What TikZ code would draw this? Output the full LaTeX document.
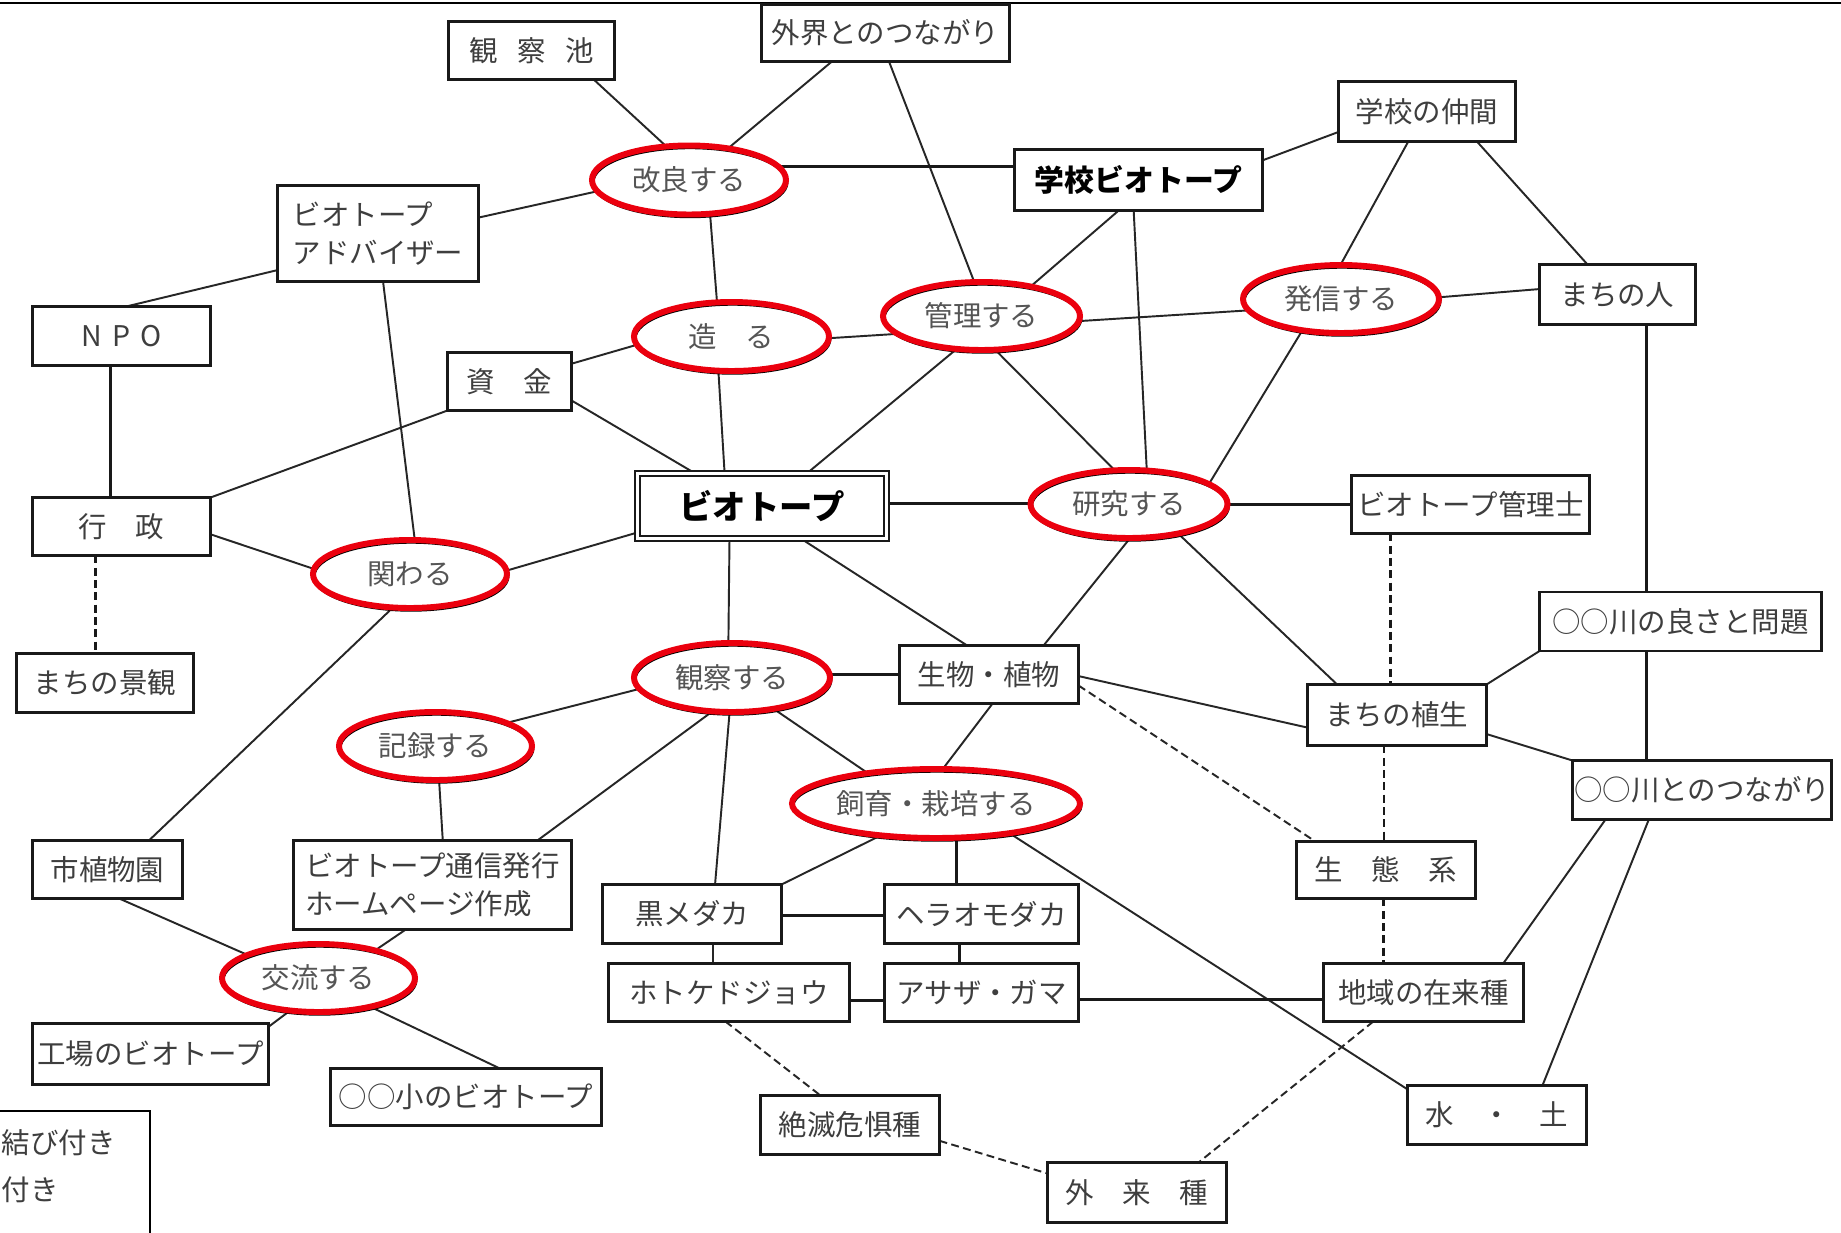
\documentclass[tikz,border=0pt]{standalone}
\usepackage{fontspec}
\setmainfont{Noto Sans CJK JP}
\usetikzlibrary{shapes.geometric}
\pgfdeclarelayer{paper}
\pgfdeclarelayer{background}
\pgfsetlayers{paper,background,main}
\definecolor{ered}{RGB}{235,0,14}
\definecolor{txt}{RGB}{62,62,62}
\definecolor{etxt}{RGB}{85,85,85}
\newcommand{\fs}{\fontsize{16.2pt}{21.5pt}\selectfont}
\begin{document}
\begin{tikzpicture}[x=0.02cm,y=-0.02cm,
  every node/.style={inner sep=0pt, outer sep=0pt},
  box/.style 2 args={draw=black!90, line width=1.6pt, fill=white, text=txt,
    minimum width={(#1-3)*0.02cm}, minimum height={(#2-3)*0.02cm}, font=\fs},
  dbox/.style 2 args={draw=black!90, double=white, double distance=1.8pt, line width=1.1pt,
    fill=white, text=black, minimum width={(#1-7)*0.02cm}, minimum height={(#2-7)*0.02cm},
    font=\fontsize{19pt}{22pt}\selectfont\bfseries},
  ell/.style 2 args={ellipse, draw=ered, line width=3.4pt,
    minimum width={(#1-6)*0.02cm}, minimum height={(#2-6)*0.02cm}, text=etxt, font=\fs,
    preaction={fill=white},
    preaction={draw=black, line width=1.6pt, transform canvas={xshift=0.6pt, yshift=-1.3pt}}},
  con/.style={line width=1.1pt, black!85},
  tcon/.style={line width=1.7pt, black!90},
  dcon/.style={line width=1.1pt, black!85, dash pattern=on 4.5pt off 2.5pt},
  tdcon/.style={line width=1.6pt, black!90, dash pattern=on 4.5pt off 2.5pt},
  legtxt/.style={anchor=west, text=txt, font=\fs}
]
\useasboundingbox (0,0) rectangle (1841,1232);
\begin{pgfonlayer}{paper}
\fill[white] (0,0) rectangle (1841,1232);
\end{pgfonlayer}
\draw[line width=1.2pt] (0,3) -- (1841,3);

% nodes
\node[box={169}{61}] (kansatsuike) at (531.5,50.5) {観\hspace{0.68em}察\hspace{0.68em}池};
\node[box={251}{60}] (gaikai) at (885.5,33) {外界とのつながり};
\node[ell={200}{75}] (kairyo) at (689,180) {改良する};
\node[box={204}{99}, align=left] (adviser) at (378,233.5) {ビオトープ\\アドバイザー};
\node[box={181}{62}] (npo) at (121.5,336) {N\hspace{0.35em}P\hspace{0.35em}O};
\node[box={127}{61}] (shikin) at (509.5,381.5) {資\hspace{1em}金};
\node[ell={201}{75}] (tsukuru) at (731.5,336.5) {造\hspace{1em}る};
\node[dbox={256}{72}] (biotope) at (762,506) {ビオトープ};
\node[box={181}{61}] (gyosei) at (121.5,526.5) {行\hspace{1em}政};
\node[ell={200}{74}] (kakawaru) at (410,574) {関わる};
\node[box={180}{63}] (gakkou) at (1427,111.5) {学校の仲間};
\node[box={251}{64}, text=black, font=\fontsize{17pt}{20pt}\selectfont\bfseries] (gbiotope) at (1138.5,180) {学校ビオトープ};
\node[ell={203}{74}] (kanri) at (981.5,316) {管理する};
\node[ell={202}{74}] (hasshin) at (1341,299) {発信する};
\node[box={159}{63}] (machinohito) at (1617.5,294.5) {まちの人};
\node[ell={203}{74}] (kenkyu) at (1129,504) {研究する};
\node[box={241}{61}] (kanrishi) at (1470.5,504.5) {ビオトープ管理士};
\node[box={285}{62}] (kawayosa) at (1680.5,621.5) {○○川の良さと問題};
\node[box={182}{61}] (seibutsu) at (989,674.5) {生物・植物};
\node[box={182}{64}] (shokusei) at (1397,715) {まちの植生};
\node[box={262}{62}] (kawatsuna) at (1702,790) {○○川とのつながり};
\node[ell={202}{75}] (kansatsu) at (732,677.5) {観察する};
\node[box={180}{62}] (keikan) at (105,683) {まちの景観};
\node[ell={199}{74}] (kiroku) at (435.5,746) {記録する};
\node[ell={294}{75}] (shiiku) at (936,803.5) {飼育・栽培する};
\node[box={182}{60}] (seitaikei) at (1386,870) {生\hspace{1em}態\hspace{1em}系};
\node[box={153}{61}] (shokubutsuen) at (107.5,869.5) {市植物園};
\node[box={281}{92}, align=left] (tsushin) at (432.5,885) {ビオトープ通信発行\\ホームページ作成};
\node[box={182}{62}] (kuromedaka) at (692,914) {黒メダカ};
\node[box={197}{62}] (hera) at (981.5,914) {ヘラオモダカ};
\node[box={244}{61}] (hotoke) at (729,992.5) {ホトケドジョウ};
\node[box={197}{61}] (asaza) at (981.5,992.5) {アサザ・ガマ};
\node[box={203}{61}] (zairai) at (1423.5,992.5) {地域の在来種};
\node[ell={199}{74}] (koryu) at (318.5,978) {交流する};
\node[box={239}{64}] (kojo) at (150.5,1054) {工場のビオトープ};
\node[box={274}{60}] (shou) at (466,1097) {○○小のビオトープ};
\node[box={182}{62}] (zetsu) at (850,1125) {絶滅危惧種};
\node[box={182}{62}] (mizu) at (1497,1115) {水\hspace{1em}・\hspace{1em}土};
\node[box={182}{63}] (gairai) at (1137,1192.5) {外\hspace{1em}来\hspace{1em}種};

% legend (cut off)
\draw[line width=1.3pt] (-5,1111) -- (150,1111) -- (150,1240);
\node[legtxt] (leg1) at (2,1143) {結び付き};
\node[legtxt] (leg2) at (2,1190) {付き};

\begin{pgfonlayer}{background}
\draw[con] (kansatsuike.-25) -- (kairyo.124.4);
\draw[con] (gaikai.-152.9) -- (kairyo.39.3);
\draw[con] (gaikai.-83.3) -- (kanri.102.6);
\draw[tcon] (gbiotope.174.5) -- (gbiotope.174.5 -| kairyo);
\draw[con] (kairyo.-173.1) -- (adviser.9.1);
\draw[con] (kairyo.-58.1) -- (tsukuru.113.7);
\draw[con] (adviser.-160.8) -- (npo.81.7);
\draw[con] (adviser.-84.2) -- (kakawaru.82.3);
\draw[tcon] (npo.-110.4) -- (npo.-110.4 |- gyosei);
\draw[con] (gyosei.north east) -- (shikin.south west);
\draw[con] (gyosei.-5.4) -- (kakawaru.177.1);
\draw[tdcon] (gyosei.-132) -- (gyosei.-132 |- keikan.north);
\draw[con] (shikin.16.2) -- (tsukuru.-175.6);
\draw[con] (shikin.-17.1) -- (biotope.154.7);
\draw[con] (tsukuru.-111.1) -- (biotope.139.4);
\draw[con] (tsukuru.-1.4) -- (kanri.-168.9);
\draw[con] (kakawaru.2.9) -- (biotope.-168.5);
\draw[con] (kakawaru.-117.8) -- (shokubutsuen.35);
\draw[con] (biotope.36) -- (kanri.-127.8);
\draw[tcon] (biotope.1.3) -- (biotope.1.3 -| kenkyu);
\draw[con] (biotope.-40.6) -- (seibutsu.127.3);
\draw[con] (biotope.-135.8) -- (kansatsu.96.1);
\draw[con] (gbiotope.9.1) -- (gakkou.-167.8);
\draw[con] (gbiotope.-123.1) -- (kanri.31.7);
\draw[con] (gbiotope.-99.5) -- (kenkyu.62.8);
\draw[con] (gakkou.-122.9) -- (hasshin.91.5);
\draw[con] (gakkou.-31) -- (machinohito.135.9);
\draw[con] (kanri.-3.4) -- (hasshin.-173.8);
\draw[con] (kanri.-68.3) -- (kenkyu.113.4);
\draw[con] (hasshin.1.7) -- (machinohito.176.8);
\draw[con] (hasshin.-141.5) -- (kenkyu.14.5);
\draw[tcon] (machinohito.-46.9) -- (machinohito.-46.9 |- kawayosa);
\draw[tcon] (kanrishi.west) -- (kanrishi.west -| kenkyu);
\draw[con] (kenkyu.-88.5) -- (seibutsu.28.9);
\draw[con] (kenkyu.-31.3) -- (shokusei.153.4);
\draw[tdcon] (kanrishi.-160.8) -- (kanrishi.-160.8 |- shokusei.north);
\draw[con] (kawayosa.south west) -- (shokusei.north east);
\draw[tcon] (kawayosa.-139.3) -- (kawayosa.-139.3 |- kawatsuna);
\draw[con] (shokusei.-12.4) -- (kawatsuna.north west);
\draw[tdcon] (shokusei.-113.6) -- (shokusei.-113.6 |- seitaikei.north);
\draw[con] (seibutsu.-1.6) -- (shokusei.-172);
\draw[dcon] (seibutsu.-7.7) -- (seitaikei.158.9);
\draw[tcon] (seibutsu.west) -- (seibutsu.west -| kansatsu);
\draw[con] (kansatsu.-173.9) -- (kiroku.18.1);
\draw[con] (kansatsu.-120.4) -- (tsushin.23.8);
\draw[con] (kansatsu.-94.6) -- (kuromedaka.52.3);
\draw[con] (kansatsu.-37.3) -- (shiiku.156.1);
\draw[con] (seibutsu.-83) -- (shiiku.79.1);
\draw[con] (kiroku.-84.9) -- (tsushin.77.1);
\draw[con] (tsushin.-121.8) -- (koryu.26.4);
\draw[con] (shokubutsuen.-68.4) -- (koryu.162.1);
\draw[con] (koryu.-131.3) -- (kojo.13.6);
\draw[con] (koryu.-29.9) -- (shou.40.7);
\draw[con] (shiiku.-150.7) -- (kuromedaka.north east);
\draw[tcon] (shiiku.-59.6) -- (shiiku.-59.6 |- hera.north);
\draw[con] (shiiku.-22.3) -- (mizu.164.6);
\draw[tcon] (kuromedaka.-1.9) -- (kuromedaka.-1.9 -| hera.west);
\draw[con] (kuromedaka.-55.9) -- (kuromedaka.-55.9 |- hotoke.north);
\draw[tcon] (hera.-127.2) -- (hera.-127.2 |- asaza.north);
\draw[tcon] (hotoke.-4) -- (hotoke.-4 -| asaza.west);
\draw[tcon] (asaza.-4.9) -- (asaza.-4.9 -| zairai.west);
\draw[tdcon] (seitaikei.-95.7) -- (seitaikei.-95.7 |- zairai.north);
\draw[con] (zairai.20.1) -- (kawatsuna.-163.4);
\draw[con] (kawatsuna.-151.9) -- (mizu.33.4);
\draw[dcon] (zairai.-150) -- (gairai.26.2);
\draw[dcon] (hotoke.-97.5) -- (zetsu.135);
\draw[dcon] (zetsu.-10.6) -- (gairai.168.5);
\end{pgfonlayer}
\end{tikzpicture}
\end{document}
